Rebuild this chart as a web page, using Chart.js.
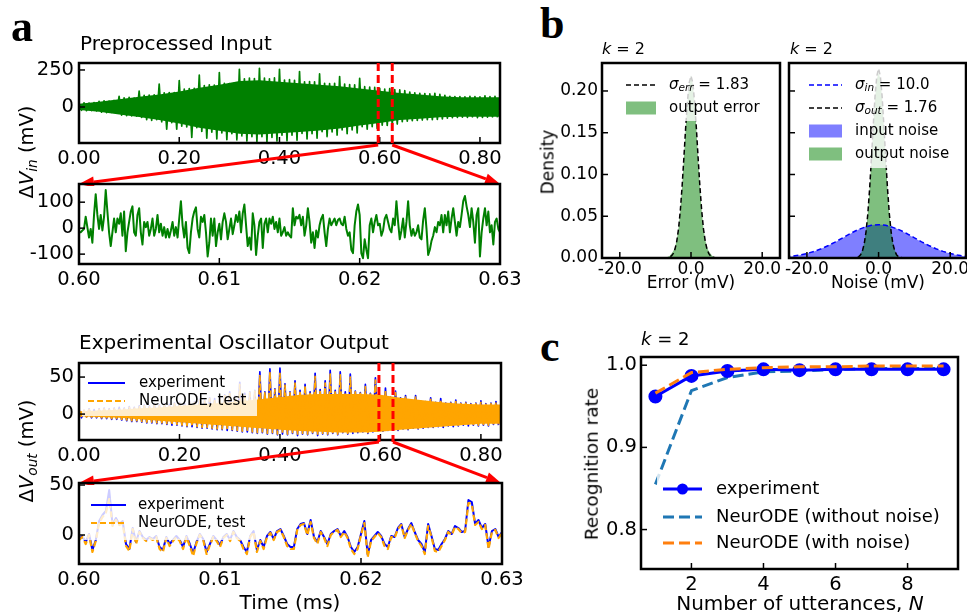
<!DOCTYPE html>
<html><head><meta charset="utf-8">
<script src="https://cdn.jsdelivr.net/npm/chart.js@4/dist/chart.umd.min.js"></script>
<style>
html,body{margin:0;padding:0;background:#fff;}
#wrap{position:relative;width:967px;height:616px;overflow:hidden;background:#fff;}
canvas{position:absolute;}
.t{position:absolute;white-space:nowrap;font-family:"DejaVu Sans";color:#000;line-height:1;}
.c{transform:translate(-50%,-50%);}
.l{transform:translate(0,-50%);}
.r{transform:translate(-50%,-50%) rotate(-90deg);}
.p{font-family:"Liberation Serif";font-weight:bold;font-size:44px;}
sub{font-size:70%;vertical-align:-0.25em;line-height:0;}
</style></head><body><div id="wrap">
<div class="t p" style="left:11px;top:5px">a</div>
<div class="t p" style="left:540px;top:2px">b</div>
<div class="t p" style="left:540px;top:325px">c</div>
<div class="t l" style="left:80px;top:43px;font-size:20px">Preprocessed Input</div>
<div class="t l" style="left:79px;top:342px;font-size:20px">Experimental Oscillator Output</div>
<div class="t r" style="left:27px;top:152px;font-size:19.5px">Δ<i>V</i><sub><i>in</i></sub> (mV)</div>
<div class="t r" style="left:27px;top:451px;font-size:19.5px">Δ<i>V</i><sub><i>out</i></sub> (mV)</div>
<div class="t c" style="left:290px;top:602px;font-size:20px">Time (ms)</div>
<div class="t l" style="left:602px;top:49px;font-size:16px"><i>k</i> = 2</div>
<div class="t l" style="left:790px;top:49px;font-size:16px"><i>k</i> = 2</div>
<div class="t l" style="left:641px;top:339px;font-size:18px"><i>k</i> = 2</div>
<div class="t r" style="left:548px;top:162px;font-size:17px">Density</div>
<div class="t c" style="left:691px;top:282px;font-size:17px">Error (mV)</div>
<div class="t c" style="left:878px;top:282px;font-size:17px">Noise (mV)</div>
<div class="t r" style="left:592px;top:464px;font-size:18.5px">Recognition rate</div>
<div class="t c" style="left:800px;top:603px;font-size:20px">Number of utterances, <i>N</i></div>
</div>
<script>
// ---------------- DATA ----------------
// Panel a: full recordings, alternating peak samples every 0.005 ms from 0 ms
const fullStep = 0.005;
const coreStep = 0.04;
const zoomWindow = [0.60, 0.63];
const inputSignal = [
25,-22,28,-25,27,-24,30,-26,
38,-35,42,-38,40,-36,44,-40,
72,-55,62,-58,65,-60,60,-62,
108,-70,78,-85,80,-90,82,-86,
155,-100,95,-150,97,-105,98,-150,
178,-130,120,-135,125,-205,126,-140,
216,-165,145,-210,150,-170,148,-215,
232,-175,160,-220,158,-180,162,-222,
254,-195,190,-230,195,-200,192,-232,
261,-200,195,-235,190,-205,196,-230,
254,-190,182,-228,185,-190,180,-225,
239,-178,170,-215,172,-180,170,-210,
223,-167,160,-200,158,-168,160,-190,
205,-155,155,-180,152,-155,150,-175,
194,-133,137,-150,135,-133,132,-145,
126,-122,120,-125,124,-120,118,-115,
115,-99,110,-95,100,-92,95,-90,
92,-88,90,-85,88,-86,92,-84,
85,-80,78,-75,72,-72,70,-70,
70,-68,68,-70,72,-66,70,-72,
68,-70,75,-68,70,-66,72,-70];
// dense core of the input band (every 0.04 ms)
const inputCoreUpper = [22,35,52,70,85,105,130,150,175,180,170,160,150,140,125,110,95,85,72,66,66,66];
const inputCoreLower = [-20,-32,-50,-68,-88,-112,-140,-160,-180,-185,-178,-168,-158,-145,-125,-108,-88,-80,-70,-66,-66,-66];
const inputZoom = [
-16,-16,-9,-3,44,4,-36,-3,-56,51,
131,51,-3,51,-9,44,147,64,-16,-69,
-16,37,-16,37,17,57,-29,64,-89,-16,
24,64,84,-16,-29,51,77,-16,-63,24,
4,24,-29,-3,37,-29,-3,51,-16,17,
-29,4,-36,-3,-36,-9,24,-29,4,-36,
37,104,11,-36,24,-76,-96,-16,37,64,
80,-3,-36,44,24,51,-16,-109,-56,37,
-29,37,-69,-16,17,-43,24,57,24,-43,
-3,37,-23,11,51,24,64,-16,57,91,
11,-69,-36,-83,57,11,-103,-29,24,37,
-76,17,37,-16,37,17,44,-3,24,-16,
37,-29,-16,4,-29,-16,-29,
-36,77,11,44,37,51,11,44,-29,11,
77,24,-56,-16,-76,-9,-36,11,37,51,
-16,-69,-3,37,11,24,37,11,31,37,
17,11,44,-3,-29,-16,-83,-96,11,64,
91,51,-96,-116,-43,-83,-116,11,37,-16,
24,51,11,17,-29,-9,37,51,24,-3,
-16,37,11,104,24,-43,-9,37,-36,24,
104,11,-29,-3,-29,-16,11,-36,-43,31,
77,-3,-103,-83,-49,-29,4,-16,24,11,
51,-16,51,11,64,-16,37,77,24,-29,
24,4,51,104,124,84,51,4,77,24,
-56,51,77,-109,-16,37,77,11,64,-16,
11,-63,24,37,-3,-16];
const outputExperiment = [
6,-5,5,-4,7,-5,6,-5,7,-6,8,-6,7,-7,8,-7,9,-8,8,-9,
10,-10,9,-10,11,-11,12,-12,11,-12,13,-13,12,-13,14,-14,13,-15,15,-15,
16,-16,15,-17,18,-17,17,-18,20,-19,19,-19,22,-20,21,-21,24,-21,26,-22,
30,-22,24,-23,43,-24,28,-24,30,-25,32,-26,57,-25,30,-27,61,-26,34,-28,
62,-27,41,-28,30,-26,45,-29,32,-27,40,-28,30,-26,55,-29,33,-27,45,-28,
59,-26,32,-28,57,-25,30,-27,54,-26,31,-25,29,-24,40,-26,28,-24,49,-23,
24,-23,35,-22,23,-21,31,-22,22,-20,25,-21,19,-19,25,-20,18,-19,17,-18,
22,-18,16,-17,21,-18,15,-16,16,-17,19,-16,15,-15,16,-16,14,-15,15,-16,
18,-15,14,-16,15,-14,17,-15];
const outputNeurODE = [
5,-4,5,-4,6,-4,5,-4,6,-5,7,-5,6,-6,7,-6,8,-7,7,-8,
9,-9,8,-9,10,-10,11,-11,10,-11,12,-12,11,-12,13,-13,12,-14,14,-14,
15,-15,14,-16,17,-16,16,-17,19,-18,18,-18,21,-19,20,-20,23,-20,25,-21,
29,-21,23,-22,40,-23,27,-23,29,-24,31,-25,52,-24,29,-26,56,-25,33,-27,
55,-26,39,-27,29,-25,42,-28,31,-26,38,-27,29,-25,51,-28,32,-26,42,-27,
54,-25,31,-27,53,-24,29,-26,50,-25,30,-24,28,-23,37,-25,27,-23,46,-22,
23,-22,32,-21,22,-20,29,-21,21,-19,23,-20,18,-18,23,-19,17,-18,16,-17,
20,-17,15,-16,19,-17,14,-15,15,-16,17,-15,14,-14,15,-15,13,-14,14,-15,
16,-14,13,-15,14,-13,15,-14];
// dense core of the NeurODE output band (every 0.04 ms)
const outputCoreUpper = [4,5,6,8,9,11,13,15,17,20,23,26,27,27,27,26,22,19,16,14,13,13];
const outputCoreLower = [-3,-4,-5,-7,-9,-11,-13,-15,-17,-19,-21,-23,-24,-25,-25,-24,-21,-19,-17,-15,-13,-13];
const outputZoomExperiment = [
-4,-1,-7,1,-15,-5,14,20,24,45,
10,17,11,14,-9,-14,7,-7,4,-2,
-5,-2,-4,-1,-12,-15,-2,-9,-5,-1,
-5,-12,-1,-9,-18,-7,1,-4,-17,-9,
-1,-5,-10,-2,1,-5,4,-2,-5,-12,
-17,-1,4,-15,-5,-12,-1,3,-4,4,
6,-1,-9,-12,
-12,6,11,12,1,15,-2,-7,4,-2,
-9,1,4,6,-1,4,-2,-12,-17,-12,
1,14,-20,-5,-1,3,-1,-9,-12,-1,
-2,7,11,-2,6,12,3,-5,-9,-17,
11,-1,-14,-15,-9,-4,4,1,9,7,
3,4,35,33,11,15,7,11,-12,4,
6,-2,3];
const outputZoomNeurODE = [
-5,-2,-9,0,-17,-6,12,18,22,36,
9,15,10,12,-11,-16,6,-9,3,-3,
-6,-3,-5,-2,-14,-17,-3,-11,-6,-2,
-6,-14,-2,-11,-21,-8,0,-5,-19,-10,
-2,-6,-12,-3,0,-6,3,-3,-6,-14,
-19,-2,3,-17,-6,-14,-2,2,-5,3,
5,-2,-11,-14,
-14,5,10,11,0,13,-3,-9,3,-3,
-11,0,3,5,-2,3,-3,-14,-19,-14,
0,12,-22,-6,-2,2,-2,-11,-14,-2,
-3,6,10,-3,5,11,2,-6,-11,-19,
9,-2,-16,-17,-11,-5,3,0,8,6,
2,3,32,31,10,13,6,10,-14,3,
5,-3,2];
const fullTimeTicks = [0, 0.2, 0.4, 0.6, 0.8];
const zoomTimeTicks = [0.60, 0.61, 0.62, 0.63];

// Panel b: densities
const errX = [-8,-7,-6,-5.5,-5,-4.5,-4,-3.5,-3,-2.5,-2,-1.5,-1,-0.5,0,0.5,1,1.5,2,2.5,3,3.5,4,4.5,5,5.5,6,7,8];
const errDensity = [0,0.0006,0.0025,0.005,0.008,0.013,0.022,0.036,0.057,0.085,0.119,0.155,0.187,0.209,0.219,0.209,0.187,0.155,0.119,0.085,0.057,0.036,0.022,0.013,0.008,0.005,0.0025,0.0006,0];
const errFit = [0,0.0001,0.0010,0.0024,0.0052,0.0106,0.0200,0.0350,0.0569,0.0858,0.1200,0.1560,0.1875,0.2100,0.2180,0.2100,0.1875,0.1560,0.1200,0.0858,0.0569,0.0350,0.0200,0.0106,0.0052,0.0024,0.0010,0.0001,0];
const outNoiseDensity = [0,0,0.001,0.002,0.005,0.010,0.019,0.033,0.054,0.083,0.119,0.157,0.191,0.214,0.222,0.214,0.191,0.157,0.119,0.083,0.054,0.033,0.019,0.010,0.005,0.002,0.001,0,0];
const outNoiseFit = [0,0.0001,0.0007,0.0017,0.0040,0.0086,0.0171,0.0314,0.0530,0.0827,0.1189,0.1577,0.1929,0.2177,0.2267,0.2177,0.1929,0.1577,0.1189,0.0827,0.0530,0.0314,0.0171,0.0086,0.0040,0.0017,0.0007,0.0001,0];
const inX = [-26,-24,-22,-20,-18,-16,-14,-12,-10,-8,-6,-4,-2,0,2,4,6,8,10,12,14,16,18,20,22,24,26];
const inNoiseDensity = [0.0013,0.0021,0.0034,0.0053,0.0078,0.0110,0.0149,0.0192,0.0240,0.0288,0.0333,0.0370,0.0395,0.0402,0.0395,0.0370,0.0333,0.0288,0.0240,0.0192,0.0149,0.0110,0.0078,0.0053,0.0034,0.0021,0.0013];
const inNoiseFit = [0.0014,0.0022,0.0035,0.0054,0.0079,0.0111,0.0150,0.0194,0.0242,0.0290,0.0334,0.0367,0.0391,0.0399,0.0391,0.0367,0.0334,0.0290,0.0242,0.0194,0.0150,0.0111,0.0079,0.0054,0.0035,0.0022,0.0014];
const densityTicks = [0, 0.05, 0.10, 0.15, 0.20];
const mvTicks = [-20, 0, 20];

// Panel c: recognition rate
const utterances = [1,2,3,4,5,6,7,8,9];
const rateExperiment = [0.962,0.987,0.993,0.995,0.994,0.995,0.995,0.995,0.995];
const rateNoNoise = [0.855,0.969,0.985,0.992,0.993,0.995,0.996,0.996,0.996];
const rateWithNoise = [0.966,0.991,0.995,0.997,0.998,0.998,0.999,0.999,0.999];
const rateTicks = [0.8, 0.9, 1.0];
const nTicks = [2, 4, 6, 8];

// ---------------- HELPERS ----------------
const WRAP = document.getElementById('wrap');
const seriesStep = (v, step) => v.map((y, i) => ({x: i * step, y}));
const seriesZoom = v => v.map((y, i) => ({x: zoomWindow[0] + i * (zoomWindow[1] - zoomWindow[0]) / (v.length - 1), y}));
const pairs = (xs, ys) => xs.map((x, i) => ({x, y: ys[i]}));
const fmt = d => v => (v < 0 ? '-' : '') + Math.abs(v).toFixed(d);

function rich(c, segs, x, y, fs) {
  let cx = x;
  segs.forEach(([t, st]) => {
    let size = fs, dy = 0, it = '';
    if (st === 'i') it = 'italic ';
    if (st === 's') { it = 'italic '; size = fs * 0.7; dy = fs * 0.22; }
    c.font = it + size + 'px "DejaVu Sans"';
    c.fillText(t, cx, y + dy);
    cx += c.measureText(t).width;
  });
}

function frame() {
  return {id: 'frame', afterDraw(ch) {
    const c = ch.ctx, a = ch.chartArea;
    c.save(); c.strokeStyle = '#000'; c.lineWidth = 1.5;
    const xs = ch.scales.x, ys = ch.scales.y;
    xs.ticks.forEach(t => { const p = xs.getPixelForValue(t.value); c.beginPath(); c.moveTo(p, a.bottom); c.lineTo(p, a.bottom - 6); c.stroke(); });
    ys.ticks.forEach(t => { const p = ys.getPixelForValue(t.value); c.beginPath(); c.moveTo(a.left, p); c.lineTo(a.left + 6, p); c.stroke(); });
    c.lineWidth = 2.5; c.strokeRect(a.left, a.top, a.right - a.left, a.bottom - a.top);
    c.restore();
  }};
}

function legend(o) {
  return {id: 'lg', afterDatasetsDraw(ch) {
    const c = ch.ctx;
    c.save(); c.translate(-o.cl, -o.ct);
    c.fillStyle = 'rgba(255,255,255,0.8)';
    c.fillRect(o.box[0], o.box[1], o.box[2] - o.box[0], o.box[3] - o.box[1]);
    o.items.forEach(it => {
      if (it.kind === 'patch') {
        c.fillStyle = it.color; c.fillRect(o.lx[0], it.y - 6.5, o.lx[1] - o.lx[0], 13);
      } else {
        c.strokeStyle = it.color; c.lineWidth = it.width; c.setLineDash(it.dash || []);
        c.beginPath(); c.moveTo(o.lx[0], it.y); c.lineTo(o.lx[1], it.y); c.stroke(); c.setLineDash([]);
        if (it.marker) { c.fillStyle = it.color; c.beginPath(); c.arc((o.lx[0] + o.lx[1]) / 2, it.y, it.marker, 0, 7); c.fill(); }
      }
      c.fillStyle = '#000'; c.textBaseline = 'middle'; c.textAlign = 'left';
      rich(c, it.segs, o.tx, it.y, o.fs);
    });
    c.restore();
  }};
}

function zoomMarks(gap) {
  return {id: 'zm', afterDraw(ch) {
    const c = ch.ctx, a = ch.chartArea, xs = ch.scales.x;
    const p0 = xs.getPixelForValue(zoomWindow[0]) - 1.5, p1 = xs.getPixelForValue(zoomWindow[1]) - 2.5;
    c.save(); c.strokeStyle = '#ff0000'; c.fillStyle = '#ff0000'; c.lineWidth = 3; c.setLineDash([8, 4]);
    [p0, p1].forEach(p => { c.beginPath(); c.moveTo(p, a.top); c.lineTo(p, a.bottom + 2); c.stroke(); });
    c.setLineDash([]);
    const arrow = (x0, y0, x1, y1) => {
      const ang = Math.atan2(y1 - y0, x1 - x0), L = 15, Wd = 5.5;
      const bx = x1 - L * Math.cos(ang), by = y1 - L * Math.sin(ang);
      c.beginPath(); c.moveTo(x0, y0); c.lineTo(bx, by); c.stroke();
      c.beginPath(); c.moveTo(x1, y1);
      c.lineTo(bx + Wd * Math.sin(ang), by - Wd * Math.cos(ang));
      c.lineTo(bx - Wd * Math.sin(ang), by + Wd * Math.cos(ang)); c.closePath(); c.fill();
    };
    arrow(p0, a.bottom + 2, a.left, a.bottom + gap);
    arrow(p1, a.bottom + 2, a.right, a.bottom + gap);
    c.restore();
  }};
}

function makeChart(o) {
  const cv = document.createElement('canvas');
  const padL = o.box[0] - o.cl, padT = o.box[1] - o.ct;
  cv.width = o.box[2] - o.cl + o.padR; cv.height = o.box[3] - o.ct + o.padB;
  cv.style.left = o.cl + 'px'; cv.style.top = o.ct + 'px';
  WRAP.insertBefore(cv, WRAP.firstChild);
  const tf = {family: 'DejaVu Sans', size: o.fs};
  return new Chart(cv, {type: 'line', data: {datasets: o.datasets}, options: {
    responsive: false, animation: false, devicePixelRatio: 1,
    layout: {padding: {top: padT, right: o.padR, left: 0, bottom: 0}},
    plugins: {legend: {display: false}, tooltip: {enabled: false}},
    elements: {point: {radius: 0}, line: {tension: 0, borderJoinStyle: 'round'}},
    scales: {
      x: {type: 'linear', min: o.x[0], max: o.x[1], grid: {display: false, drawTicks: false}, border: {display: false},
        afterBuildTicks: s => { s.ticks = o.xt.map(v => ({value: v})); },
        afterFit: s => { s.height = o.padB; s.paddingLeft = 0; s.paddingRight = 0; },
        ticks: {font: tf, color: '#000', padding: o.xpad, maxRotation: 0, minRotation: 0, autoSkip: false, callback: o.xf}},
      y: {type: 'linear', min: o.y[0], max: o.y[1], grid: {display: false, drawTicks: false}, border: {display: false},
        afterBuildTicks: s => { s.ticks = o.yt.map(v => ({value: v})); },
        afterFit: s => { s.width = padL; s.paddingTop = 0; s.paddingBottom = 0; },
        ticks: {display: o.yLabels !== false, font: tf, color: '#000', padding: o.ypad, autoSkip: false, callback: o.yf}}
    }}, plugins: [frame()].concat(o.extra || [])});
}

const GREEN = '#008000', BLUE = '#0000ff', ORANGE = '#ffa500';

// ---------------- PANEL c ----------------
makeChart({cl: 600, ct: 345, box: [641, 357, 958, 569], padR: 9, padB: 26, fs: 19.5, xpad: 4, ypad: 4,
  x: [0.6, 9.4], xt: nTicks, xf: fmt(0), y: [0.752, 1.01], yt: rateTicks, yf: fmt(1),
  datasets: [
    {data: pairs(utterances, rateWithNoise), borderColor: '#ff7f0e', borderWidth: 3, borderDash: [11, 5], order: 0},
    {data: pairs(utterances, rateExperiment), borderColor: BLUE, borderWidth: 3, pointRadius: 5.5, pointBackgroundColor: BLUE, pointBorderColor: BLUE, order: 1},
    {data: pairs(utterances, rateNoNoise), borderColor: '#1f77b4', borderWidth: 3, borderDash: [11, 5], order: 2}
  ],
  extra: [legend({cl: 600, ct: 345, box: [657, 472, 953, 558], lx: [663, 702], tx: 716, fs: 18, items: [
    {y: 489, kind: 'line', color: BLUE, width: 3, marker: 5.5, segs: [['experiment', '']]},
    {y: 517, kind: 'line', color: '#1f77b4', width: 3, dash: [11, 5], segs: [['NeurODE (without noise)', '']]},
    {y: 543, kind: 'line', color: '#ff7f0e', width: 3, dash: [11, 5], segs: [['NeurODE (with noise)', '']]}
  ]})]});

// ---------------- PANEL b ----------------
makeChart({cl: 784, ct: 55, box: [789, 63, 966, 258], padR: 1, padB: 26, fs: 17, xpad: 1, ypad: 4, yLabels: false,
  x: [-25, 24.4], xt: mvTicks, xf: fmt(1), y: [0, 0.2335], yt: densityTicks, yf: fmt(2),
  datasets: [
    {data: pairs(inX, inNoiseFit), borderColor: BLUE, borderWidth: 1.5, borderDash: [5, 3], order: 0},
    {data: pairs(errX, outNoiseFit), borderColor: '#000', borderWidth: 1.5, borderDash: [5, 3], order: 0},
    {data: pairs(errX, outNoiseDensity), borderWidth: 0, fill: 'origin', backgroundColor: 'rgba(0,128,0,0.5)', order: 1},
    {data: pairs(inX, inNoiseDensity), borderWidth: 0, fill: 'origin', backgroundColor: 'rgba(0,0,255,0.5)', order: 2}
  ],
  extra: [legend({cl: 784, ct: 55, box: [805, 67, 964, 168], lx: [809, 842], tx: 855, fs: 15, items: [
    {y: 85, kind: 'line', color: BLUE, width: 1.5, dash: [5, 3], segs: [['σ', 'i'], ['in', 's'], [' = 10.0', '']]},
    {y: 108, kind: 'line', color: '#000', width: 1.5, dash: [5, 3], segs: [['σ', 'i'], ['out', 's'], [' = 1.76', '']]},
    {y: 131, kind: 'patch', color: 'rgba(0,0,255,0.5)', segs: [['input noise', '']]},
    {y: 154, kind: 'patch', color: 'rgba(0,128,0,0.5)', segs: [['output noise', '']]}
  ]})]});

makeChart({cl: 550, ct: 55, box: [602, 63, 780, 258], padR: 4, padB: 26, fs: 17, xpad: 1, ypad: 4,
  x: [-25, 25], xt: mvTicks, xf: fmt(1), y: [0, 0.2335], yt: densityTicks, yf: fmt(2),
  datasets: [
    {data: pairs(errX, errFit), borderColor: '#000', borderWidth: 1.5, borderDash: [5, 3], order: 0},
    {data: pairs(errX, errDensity), borderWidth: 0, fill: 'origin', backgroundColor: 'rgba(0,128,0,0.5)', order: 1}
  ],
  extra: [legend({cl: 550, ct: 55, box: [619, 67, 777, 121], lx: [626, 656], tx: 669, fs: 15, items: [
    {y: 85, kind: 'line', color: '#000', width: 1.5, dash: [5, 3], segs: [['σ', 'i'], ['err', 's'], [' = 1.83', '']]},
    {y: 108, kind: 'patch', color: 'rgba(0,128,0,0.5)', segs: [['output error', '']]}
  ]})]});

// ---------------- PANEL a ----------------
makeChart({cl: 0, ct: 470, box: [79, 483, 502, 564], padR: 30, padB: 36, fs: 19.5, xpad: 4, ypad: 5,
  x: zoomWindow, xt: zoomTimeTicks, xf: fmt(2), y: [-29, 52], yt: [0, 50], yf: fmt(0),
  datasets: [
    {data: seriesZoom(outputZoomNeurODE), borderColor: ORANGE, borderWidth: 2.2, borderDash: [6, 3], order: 0},
    {data: seriesZoom(outputZoomExperiment), borderColor: BLUE, borderWidth: 2, order: 1}
  ],
  extra: [legend({cl: 0, ct: 470, box: [83, 487, 257, 540], lx: [91, 126], tx: 138, fs: 15, items: [
    {y: 505, kind: 'line', color: BLUE, width: 2, segs: [['experiment', '']]},
    {y: 523, kind: 'line', color: ORANGE, width: 2, dash: [6, 3], segs: [['NeurODE, test', '']]}
  ]})]});

makeChart({cl: 0, ct: 330, box: [79, 363, 501, 440], padR: 20, padB: 45, fs: 19.5, xpad: 4, ypad: 5,
  x: [0, 0.84], xt: fullTimeTicks, xf: fmt(2), y: [-35, 69], yt: [0, 50], yf: fmt(0),
  datasets: [
    {data: seriesStep(outputNeurODE, fullStep), borderColor: ORANGE, borderWidth: 1.7, borderDash: [7, 2], order: 0},
    {data: seriesStep(outputCoreUpper, coreStep), borderWidth: 0, fill: 2, backgroundColor: ORANGE, order: 1},
    {data: seriesStep(outputCoreLower, coreStep), borderWidth: 0, order: 1},
    {data: seriesStep(outputExperiment, fullStep), borderColor: BLUE, borderWidth: 1.7, order: 2}
  ],
  extra: [legend({cl: 0, ct: 330, box: [82, 366, 257, 416], lx: [88, 125], tx: 139, fs: 15, items: [
    {y: 383, kind: 'line', color: BLUE, width: 2, segs: [['experiment', '']]},
    {y: 401, kind: 'line', color: ORANGE, width: 2, dash: [6, 3], segs: [['NeurODE, test', '']]}
  ]}), zoomMarks(43)]});

makeChart({cl: 0, ct: 170, box: [79, 184, 500, 264], padR: 30, padB: 36, fs: 19.5, xpad: 4, ypad: 5,
  x: zoomWindow, xt: zoomTimeTicks, xf: fmt(2), y: [-138, 170], yt: [-100, 0, 100], yf: fmt(0),
  datasets: [{data: seriesZoom(inputZoom), borderColor: GREEN, borderWidth: 2}]});

makeChart({cl: 0, ct: 0, box: [79, 63, 500, 143], padR: 20, padB: 43, fs: 19.5, xpad: 4, ypad: 5,
  x: [0, 0.84], xt: fullTimeTicks, xf: fmt(2), y: [-243, 297], yt: [0, 250], yf: fmt(0),
  datasets: [
    {data: seriesStep(inputSignal, fullStep), borderColor: GREEN, borderWidth: 1.7, order: 0},
    {data: seriesStep(inputCoreUpper, coreStep), borderWidth: 0, fill: 2, backgroundColor: GREEN, order: 1},
    {data: seriesStep(inputCoreLower, coreStep), borderWidth: 0, order: 1}
  ],
  extra: [zoomMarks(41)]});
</script></body></html>
